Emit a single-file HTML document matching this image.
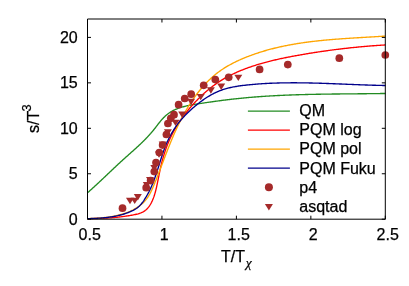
<!DOCTYPE html>
<html><head><meta charset="utf-8">
<style>
html,body{margin:0;padding:0;background:#fff;}
body{width:409px;height:286px;overflow:hidden;}
svg{display:block;will-change:transform;}
text{font-family:"Liberation Sans",sans-serif;fill:#000;stroke:#000;stroke-width:0.25px;}
</style></head><body>
<svg width="409" height="286" viewBox="0 0 409 286">
<rect width="409" height="286" fill="#fff"/>
<defs><clipPath id="c"><rect x="87" y="18.5" width="299" height="201.2"/></clipPath></defs>
<g fill="none" stroke-width="1.35" stroke-linejoin="round" clip-path="url(#c)">
<path stroke="#228b22" d="M87.48,192.78 L88.11,192.23 L88.74,191.68 L89.36,191.13 L89.99,190.58 L90.61,190.02 L91.23,189.47 L91.85,188.91 L92.47,188.35 L93.09,187.79 L93.71,187.23 L94.32,186.67 L94.94,186.10 L95.55,185.54 L96.17,184.97 L96.78,184.41 L97.39,183.84 L98.00,183.27 L98.61,182.70 L99.22,182.13 L99.83,181.56 L100.44,180.99 L101.05,180.42 L101.66,179.85 L102.27,179.27 L102.87,178.70 L103.48,178.13 L104.08,177.55 L104.69,176.98 L105.30,176.40 L105.90,175.83 L106.51,175.25 L107.11,174.68 L107.72,174.10 L108.32,173.52 L108.93,172.95 L109.53,172.37 L110.14,171.80 L110.74,171.22 L111.35,170.65 L111.95,170.07 L112.56,169.50 L113.17,168.93 L113.77,168.35 L114.38,167.78 L114.99,167.21 L115.60,166.64 L116.21,166.06 L116.81,165.49 L117.42,164.92 L118.04,164.35 L118.65,163.79 L119.26,163.22 L119.87,162.65 L120.48,162.09 L121.10,161.52 L121.71,160.96 L122.33,160.40 L122.95,159.84 L123.57,159.28 L124.19,158.72 L124.81,158.16 L125.43,157.60 L126.05,157.05 L126.67,156.49 L127.29,155.94 L127.92,155.38 L128.54,154.83 L129.16,154.28 L129.78,153.72 L130.41,153.17 L131.03,152.61 L131.65,152.06 L132.27,151.51 L132.90,150.95 L133.52,150.39 L134.14,149.84 L134.75,149.28 L135.37,148.72 L135.99,148.16 L136.60,147.60 L137.22,147.04 L137.83,146.47 L138.44,145.91 L139.05,145.34 L139.66,144.77 L140.26,144.20 L140.87,143.62 L141.47,143.05 L142.07,142.47 L142.66,141.89 L143.26,141.30 L143.85,140.72 L144.44,140.13 L145.03,139.53 L145.61,138.94 L146.19,138.34 L146.77,137.74 L147.34,137.13 L147.91,136.52 L148.48,135.91 L149.05,135.29 L149.61,134.67 L150.16,134.04 L150.72,133.42 L151.27,132.78 L151.81,132.14 L152.35,131.50 L152.89,130.85 L153.42,130.20 L153.95,129.54 L154.47,128.88 L154.99,128.22 L155.51,127.55 L156.02,126.88 L156.54,126.21 L157.05,125.54 L157.57,124.87 L158.08,124.20 L158.60,123.53 L159.12,122.87 L159.65,122.22 L160.18,121.56 L160.71,120.92 L161.25,120.28 L161.80,119.65 L162.36,119.03 L162.92,118.42 L163.49,117.82 L164.07,117.23 L164.66,116.65 L165.27,116.09 L165.88,115.54 L166.51,115.01 L167.14,114.49 L167.79,113.98 L168.45,113.49 L169.12,113.01 L169.80,112.55 L170.48,112.10 L171.18,111.67 L171.89,111.25 L172.61,110.85 L173.33,110.47 L174.07,110.10 L174.81,109.75 L175.56,109.41 L176.32,109.09 L177.09,108.78 L177.86,108.49 L178.64,108.21 L179.43,107.94 L180.21,107.68 L181.01,107.43 L181.80,107.19 L182.60,106.96 L183.40,106.74 L184.21,106.52 L185.01,106.32 L185.83,106.12 L186.64,105.93 L187.45,105.75 L188.27,105.57 L189.09,105.40 L189.92,105.23 L190.74,105.07 L191.56,104.92 L192.39,104.77 L193.22,104.62 L194.05,104.48 L194.88,104.34 L195.71,104.20 L196.54,104.07 L197.37,103.94 L198.21,103.81 L199.04,103.68 L199.87,103.55 L200.70,103.43 L201.53,103.30 L202.36,103.18 L203.19,103.05 L204.02,102.93 L204.85,102.81 L205.68,102.68 L206.51,102.56 L207.34,102.44 L208.17,102.32 L209.00,102.20 L209.83,102.08 L210.66,101.96 L211.48,101.85 L212.31,101.73 L213.14,101.61 L213.97,101.50 L214.79,101.39 L215.62,101.27 L216.45,101.16 L217.28,101.05 L218.10,100.94 L218.93,100.83 L219.76,100.72 L220.58,100.61 L221.41,100.50 L222.23,100.40 L223.06,100.29 L223.89,100.19 L224.71,100.08 L225.54,99.98 L226.37,99.88 L227.19,99.78 L228.02,99.68 L228.84,99.58 L229.67,99.48 L230.50,99.38 L231.32,99.29 L232.15,99.19 L232.98,99.10 L233.80,99.00 L234.63,98.91 L235.46,98.82 L236.28,98.73 L237.11,98.64 L237.94,98.56 L238.76,98.47 L239.59,98.38 L240.42,98.30 L241.25,98.22 L242.08,98.13 L242.90,98.05 L243.73,97.97 L244.56,97.90 L245.39,97.82 L246.22,97.74 L247.05,97.67 L247.88,97.59 L248.71,97.52 L249.53,97.44 L250.36,97.37 L251.19,97.30 L252.02,97.23 L252.85,97.17 L253.68,97.10 L254.51,97.03 L255.34,96.97 L256.18,96.90 L257.01,96.84 L257.84,96.78 L258.67,96.71 L259.50,96.65 L260.33,96.59 L261.16,96.54 L261.99,96.48 L262.82,96.42 L263.66,96.37 L264.49,96.31 L265.32,96.26 L266.15,96.20 L266.98,96.15 L267.82,96.10 L268.65,96.05 L269.48,96.00 L270.31,95.95 L271.15,95.90 L271.98,95.85 L272.81,95.81 L273.65,95.76 L274.48,95.72 L275.31,95.67 L276.15,95.63 L276.98,95.58 L277.81,95.54 L278.65,95.50 L279.48,95.46 L280.31,95.42 L281.15,95.38 L281.98,95.34 L282.82,95.31 L283.65,95.27 L284.48,95.23 L285.32,95.20 L286.15,95.16 L286.99,95.13 L287.82,95.09 L288.66,95.06 L289.49,95.03 L290.33,95.00 L291.16,94.97 L292.00,94.94 L292.83,94.91 L293.67,94.88 L294.50,94.85 L295.34,94.82 L296.17,94.79 L297.01,94.77 L297.84,94.74 L298.68,94.71 L299.51,94.69 L300.35,94.66 L301.18,94.64 L302.02,94.62 L302.85,94.59 L303.69,94.57 L304.53,94.55 L305.36,94.53 L306.20,94.51 L307.03,94.49 L307.87,94.47 L308.70,94.45 L309.54,94.43 L310.38,94.41 L311.21,94.39 L312.05,94.37 L312.88,94.35 L313.72,94.34 L314.56,94.32 L315.39,94.30 L316.23,94.29 L317.06,94.27 L317.90,94.26 L318.74,94.24 L319.57,94.23 L320.41,94.21 L321.24,94.20 L322.08,94.19 L322.92,94.17 L323.75,94.16 L324.59,94.15 L325.42,94.13 L326.26,94.12 L327.10,94.11 L327.93,94.10 L328.77,94.09 L329.60,94.08 L330.44,94.07 L331.28,94.05 L332.11,94.04 L332.95,94.03 L333.78,94.02 L334.62,94.01 L335.45,94.00 L336.29,94.00 L337.13,93.99 L337.96,93.98 L338.80,93.97 L339.63,93.96 L340.47,93.95 L341.30,93.94 L342.14,93.93 L342.97,93.93 L343.81,93.92 L344.65,93.91 L345.48,93.90 L346.32,93.89 L347.15,93.89 L347.99,93.88 L348.82,93.87 L349.66,93.86 L350.49,93.86 L351.33,93.85 L352.16,93.84 L353.00,93.83 L353.83,93.83 L354.66,93.82 L355.50,93.81 L356.33,93.80 L357.17,93.80 L358.00,93.79 L358.84,93.78 L359.67,93.77 L360.51,93.77 L361.34,93.76 L362.17,93.75 L363.01,93.74 L363.84,93.73 L364.67,93.73 L365.51,93.72 L366.34,93.71 L367.17,93.70 L368.01,93.69 L368.84,93.68 L369.67,93.68 L370.51,93.67 L371.34,93.66 L372.17,93.65 L373.01,93.64 L373.84,93.63 L374.67,93.62 L375.50,93.61 L376.34,93.60 L377.17,93.59 L378.00,93.58 L378.83,93.57 L379.66,93.56 L380.49,93.54 L381.33,93.53 L382.16,93.52 L382.99,93.51 L383.82,93.49 L384.65,93.48 L385.48,93.47"/>
<path stroke="#ff0000" d="M87.50,218.61 L88.50,218.61 L89.49,218.60 L90.48,218.59 L91.46,218.58 L92.44,218.56 L93.42,218.55 L94.39,218.53 L95.36,218.51 L96.33,218.49 L97.29,218.46 L98.26,218.43 L99.22,218.40 L100.17,218.37 L101.13,218.34 L102.08,218.30 L103.04,218.26 L103.99,218.21 L104.94,218.17 L105.88,218.12 L106.83,218.06 L107.77,218.01 L108.72,217.95 L109.66,217.88 L110.60,217.82 L111.55,217.75 L112.49,217.67 L113.43,217.59 L114.37,217.51 L115.31,217.42 L116.26,217.33 L117.20,217.24 L118.14,217.14 L119.09,217.03 L120.03,216.93 L120.98,216.81 L121.92,216.70 L122.87,216.57 L123.82,216.45 L124.77,216.31 L125.73,216.18 L126.68,216.03 L127.64,215.89 L128.60,215.73 L129.56,215.58 L130.53,215.41 L131.50,215.24 L132.47,215.07 L133.44,214.89 L134.41,214.70 L135.38,214.49 L136.34,214.27 L137.30,214.04 L138.24,213.78 L139.17,213.50 L140.08,213.19 L140.97,212.85 L141.84,212.47 L142.69,212.06 L143.51,211.62 L144.30,211.13 L145.06,210.59 L145.78,210.02 L146.47,209.40 L147.14,208.75 L147.77,208.06 L148.38,207.34 L148.95,206.58 L149.50,205.81 L150.03,205.00 L150.53,204.18 L151.01,203.34 L151.46,202.48 L151.89,201.60 L152.30,200.72 L152.69,199.82 L153.06,198.92 L153.42,198.02 L153.75,197.11 L154.08,196.19 L154.38,195.27 L154.67,194.34 L154.95,193.41 L155.22,192.48 L155.47,191.55 L155.71,190.61 L155.95,189.67 L156.17,188.73 L156.39,187.79 L156.60,186.84 L156.81,185.90 L157.01,184.96 L157.21,184.02 L157.41,183.08 L157.60,182.14 L157.79,181.20 L157.97,180.26 L158.16,179.32 L158.35,178.39 L158.53,177.45 L158.72,176.51 L158.90,175.57 L159.09,174.64 L159.28,173.70 L159.47,172.76 L159.66,171.83 L159.86,170.89 L160.06,169.95 L160.26,169.02 L160.47,168.08 L160.69,167.15 L160.90,166.21 L161.13,165.27 L161.35,164.34 L161.58,163.40 L161.82,162.47 L162.06,161.54 L162.31,160.61 L162.56,159.68 L162.82,158.75 L163.08,157.82 L163.34,156.89 L163.62,155.97 L163.90,155.04 L164.18,154.12 L164.47,153.20 L164.76,152.28 L165.07,151.37 L165.37,150.46 L165.69,149.54 L166.01,148.64 L166.33,147.73 L166.67,146.83 L167.00,145.92 L167.35,145.03 L167.70,144.13 L168.06,143.24 L168.43,142.35 L168.80,141.47 L169.18,140.58 L169.57,139.71 L169.96,138.83 L170.37,137.96 L170.77,137.09 L171.19,136.23 L171.61,135.37 L172.04,134.51 L172.48,133.66 L172.92,132.81 L173.37,131.96 L173.83,131.12 L174.29,130.28 L174.76,129.45 L175.24,128.62 L175.72,127.79 L176.21,126.96 L176.70,126.14 L177.21,125.33 L177.71,124.51 L178.23,123.70 L178.75,122.90 L179.27,122.10 L179.80,121.30 L180.34,120.50 L180.88,119.71 L181.43,118.92 L181.98,118.14 L182.54,117.36 L183.11,116.58 L183.68,115.81 L184.25,115.04 L184.83,114.28 L185.42,113.51 L186.01,112.76 L186.60,112.00 L187.20,111.25 L187.81,110.50 L188.42,109.76 L189.04,109.02 L189.66,108.28 L190.28,107.55 L190.91,106.82 L191.54,106.09 L192.18,105.37 L192.82,104.65 L193.47,103.94 L194.12,103.23 L194.78,102.52 L195.44,101.82 L196.10,101.12 L196.77,100.42 L197.44,99.73 L198.11,99.05 L198.79,98.36 L199.48,97.68 L200.17,97.01 L200.86,96.34 L201.56,95.68 L202.26,95.02 L202.97,94.36 L203.68,93.71 L204.39,93.07 L205.11,92.43 L205.84,91.79 L206.56,91.17 L207.30,90.54 L208.03,89.92 L208.77,89.31 L209.52,88.71 L210.27,88.11 L211.03,87.51 L211.79,86.93 L212.55,86.34 L213.32,85.77 L214.09,85.20 L214.87,84.64 L215.65,84.08 L216.44,83.54 L217.23,82.99 L218.03,82.46 L218.83,81.93 L219.63,81.41 L220.44,80.90 L221.26,80.39 L222.07,79.89 L222.90,79.40 L223.72,78.91 L224.56,78.43 L225.39,77.96 L226.23,77.49 L227.07,77.03 L227.92,76.58 L228.77,76.13 L229.62,75.69 L230.48,75.26 L231.34,74.83 L232.20,74.40 L233.06,73.99 L233.93,73.58 L234.80,73.17 L235.68,72.77 L236.56,72.38 L237.44,71.99 L238.32,71.60 L239.20,71.23 L240.09,70.85 L240.98,70.49 L241.87,70.12 L242.76,69.77 L243.66,69.41 L244.56,69.07 L245.46,68.72 L246.36,68.39 L247.26,68.06 L248.16,67.73 L249.07,67.40 L249.98,67.09 L250.88,66.77 L251.79,66.46 L252.71,66.16 L253.62,65.85 L254.53,65.56 L255.45,65.27 L256.36,64.98 L257.28,64.69 L258.20,64.41 L259.12,64.14 L260.04,63.86 L260.96,63.59 L261.88,63.33 L262.81,63.07 L263.73,62.81 L264.66,62.55 L265.59,62.30 L266.52,62.06 L267.45,61.81 L268.38,61.57 L269.31,61.33 L270.24,61.10 L271.17,60.87 L272.11,60.64 L273.04,60.41 L273.98,60.19 L274.91,59.97 L275.85,59.75 L276.79,59.54 L277.72,59.33 L278.66,59.12 L279.60,58.91 L280.54,58.71 L281.48,58.51 L282.42,58.31 L283.37,58.11 L284.31,57.92 L285.25,57.72 L286.20,57.53 L287.14,57.35 L288.08,57.16 L289.03,56.97 L289.97,56.79 L290.92,56.61 L291.86,56.43 L292.81,56.25 L293.75,56.08 L294.70,55.90 L295.65,55.73 L296.59,55.56 L297.54,55.39 L298.49,55.22 L299.44,55.05 L300.38,54.88 L301.33,54.72 L302.28,54.55 L303.23,54.39 L304.17,54.23 L305.12,54.07 L306.07,53.91 L307.02,53.75 L307.97,53.59 L308.91,53.44 L309.86,53.28 L310.81,53.13 L311.76,52.98 L312.71,52.83 L313.66,52.68 L314.61,52.53 L315.56,52.38 L316.51,52.24 L317.46,52.09 L318.41,51.95 L319.36,51.81 L320.31,51.66 L321.26,51.52 L322.21,51.39 L323.16,51.25 L324.11,51.11 L325.06,50.98 L326.01,50.84 L326.96,50.71 L327.91,50.58 L328.86,50.45 L329.82,50.32 L330.77,50.19 L331.72,50.07 L332.67,49.94 L333.62,49.82 L334.58,49.70 L335.53,49.57 L336.48,49.45 L337.44,49.33 L338.39,49.22 L339.34,49.10 L340.30,48.98 L341.25,48.87 L342.20,48.76 L343.16,48.64 L344.11,48.53 L345.07,48.42 L346.02,48.32 L346.97,48.21 L347.93,48.10 L348.88,48.00 L349.84,47.90 L350.79,47.79 L351.75,47.69 L352.71,47.59 L353.66,47.50 L354.62,47.40 L355.57,47.30 L356.53,47.21 L357.49,47.11 L358.44,47.02 L359.40,46.93 L360.36,46.84 L361.31,46.75 L362.27,46.66 L363.23,46.58 L364.19,46.49 L365.14,46.41 L366.10,46.33 L367.06,46.25 L368.02,46.17 L368.98,46.09 L369.94,46.01 L370.90,45.93 L371.86,45.86 L372.82,45.78 L373.77,45.71 L374.73,45.64 L375.69,45.57 L376.66,45.50 L377.62,45.43 L378.58,45.36 L379.54,45.30 L380.50,45.23 L381.46,45.17 L382.42,45.11 L383.38,45.05 L384.34,44.99 L385.31,44.93"/>
<path stroke="#ffa500" d="M87.55,218.64 L88.48,218.61 L89.42,218.57 L90.36,218.54 L91.30,218.50 L92.25,218.46 L93.20,218.41 L94.15,218.36 L95.11,218.31 L96.07,218.26 L97.03,218.20 L97.99,218.13 L98.95,218.07 L99.92,217.99 L100.88,217.91 L101.85,217.83 L102.81,217.74 L103.78,217.64 L104.75,217.54 L105.71,217.43 L106.68,217.31 L107.64,217.19 L108.61,217.06 L109.57,216.92 L110.54,216.77 L111.50,216.62 L112.46,216.45 L113.42,216.28 L114.37,216.09 L115.33,215.90 L116.28,215.70 L117.23,215.48 L118.17,215.26 L119.11,215.02 L120.05,214.78 L120.99,214.52 L121.92,214.25 L122.85,213.97 L123.77,213.68 L124.69,213.37 L125.60,213.05 L126.51,212.72 L127.42,212.38 L128.32,212.02 L129.21,211.64 L130.10,211.26 L130.98,210.86 L131.85,210.44 L132.72,210.01 L133.58,209.56 L134.43,209.10 L135.28,208.62 L136.11,208.12 L136.93,207.61 L137.75,207.09 L138.54,206.54 L139.33,205.98 L140.10,205.41 L140.85,204.81 L141.59,204.20 L142.31,203.57 L143.02,202.93 L143.70,202.26 L144.36,201.58 L145.01,200.88 L145.63,200.17 L146.23,199.43 L146.80,198.68 L147.36,197.91 L147.89,197.12 L148.41,196.32 L148.90,195.50 L149.38,194.68 L149.85,193.84 L150.30,192.99 L150.74,192.13 L151.17,191.26 L151.58,190.39 L151.99,189.51 L152.39,188.62 L152.78,187.73 L153.17,186.84 L153.55,185.94 L153.93,185.05 L154.30,184.15 L154.67,183.25 L155.04,182.36 L155.41,181.46 L155.78,180.56 L156.14,179.66 L156.50,178.76 L156.86,177.87 L157.21,176.97 L157.57,176.07 L157.92,175.17 L158.27,174.27 L158.62,173.37 L158.97,172.47 L159.32,171.57 L159.67,170.67 L160.01,169.77 L160.36,168.87 L160.70,167.97 L161.04,167.07 L161.38,166.17 L161.73,165.27 L162.07,164.37 L162.41,163.47 L162.75,162.57 L163.09,161.67 L163.43,160.77 L163.77,159.87 L164.11,158.97 L164.45,158.07 L164.79,157.17 L165.13,156.28 L165.48,155.38 L165.82,154.48 L166.16,153.58 L166.51,152.68 L166.86,151.79 L167.20,150.89 L167.55,150.00 L167.90,149.10 L168.25,148.20 L168.61,147.31 L168.96,146.42 L169.32,145.52 L169.68,144.63 L170.04,143.74 L170.40,142.84 L170.76,141.95 L171.13,141.06 L171.50,140.17 L171.87,139.28 L172.25,138.40 L172.63,137.51 L173.01,136.62 L173.39,135.73 L173.78,134.85 L174.16,133.96 L174.56,133.08 L174.95,132.20 L175.35,131.32 L175.75,130.44 L176.15,129.56 L176.56,128.68 L176.97,127.81 L177.38,126.93 L177.80,126.06 L178.22,125.19 L178.64,124.32 L179.07,123.45 L179.50,122.59 L179.93,121.72 L180.37,120.86 L180.81,120.00 L181.25,119.14 L181.70,118.28 L182.15,117.43 L182.61,116.57 L183.06,115.72 L183.53,114.87 L183.99,114.03 L184.47,113.18 L184.94,112.34 L185.42,111.50 L185.90,110.66 L186.39,109.83 L186.88,109.00 L187.38,108.17 L187.88,107.34 L188.38,106.52 L188.89,105.70 L189.40,104.88 L189.92,104.06 L190.44,103.25 L190.97,102.44 L191.50,101.63 L192.03,100.83 L192.57,100.03 L193.12,99.23 L193.67,98.44 L194.23,97.65 L194.79,96.86 L195.35,96.08 L195.92,95.30 L196.49,94.52 L197.07,93.75 L197.66,92.99 L198.25,92.22 L198.85,91.47 L199.45,90.71 L200.05,89.96 L200.66,89.22 L201.28,88.48 L201.90,87.75 L202.53,87.02 L203.16,86.30 L203.80,85.58 L204.45,84.87 L205.10,84.16 L205.75,83.46 L206.42,82.77 L207.08,82.08 L207.76,81.39 L208.44,80.72 L209.12,80.05 L209.82,79.39 L210.51,78.73 L211.22,78.08 L211.93,77.44 L212.64,76.80 L213.37,76.17 L214.10,75.55 L214.83,74.94 L215.57,74.33 L216.32,73.74 L217.08,73.14 L217.84,72.56 L218.60,71.99 L219.38,71.42 L220.16,70.86 L220.95,70.31 L221.74,69.77 L222.54,69.23 L223.35,68.71 L224.16,68.19 L224.97,67.67 L225.80,67.17 L226.62,66.67 L227.46,66.18 L228.29,65.70 L229.13,65.22 L229.98,64.75 L230.83,64.29 L231.69,63.83 L232.55,63.38 L233.41,62.94 L234.28,62.50 L235.15,62.07 L236.02,61.64 L236.90,61.22 L237.78,60.81 L238.66,60.40 L239.55,60.00 L240.43,59.61 L241.32,59.22 L242.22,58.83 L243.11,58.45 L244.01,58.08 L244.91,57.71 L245.81,57.34 L246.71,56.98 L247.62,56.63 L248.52,56.28 L249.43,55.94 L250.33,55.59 L251.24,55.26 L252.15,54.93 L253.06,54.60 L253.97,54.28 L254.89,53.96 L255.80,53.65 L256.71,53.34 L257.63,53.04 L258.55,52.74 L259.46,52.44 L260.38,52.15 L261.30,51.86 L262.22,51.58 L263.15,51.30 L264.07,51.02 L264.99,50.75 L265.92,50.48 L266.84,50.22 L267.77,49.96 L268.70,49.71 L269.62,49.46 L270.55,49.21 L271.48,48.97 L272.41,48.73 L273.35,48.49 L274.28,48.26 L275.21,48.03 L276.15,47.80 L277.08,47.58 L278.02,47.36 L278.96,47.15 L279.89,46.94 L280.83,46.73 L281.77,46.52 L282.71,46.32 L283.65,46.12 L284.59,45.93 L285.53,45.74 L286.48,45.55 L287.42,45.36 L288.36,45.18 L289.31,45.00 L290.25,44.83 L291.20,44.65 L292.15,44.48 L293.10,44.32 L294.04,44.15 L294.99,43.99 L295.94,43.83 L296.89,43.68 L297.84,43.52 L298.79,43.37 L299.74,43.22 L300.70,43.08 L301.65,42.94 L302.60,42.80 L303.55,42.66 L304.51,42.52 L305.46,42.39 L306.42,42.26 L307.37,42.13 L308.33,42.01 L309.29,41.88 L310.24,41.76 L311.20,41.64 L312.16,41.53 L313.12,41.41 L314.07,41.30 L315.03,41.19 L315.99,41.08 L316.95,40.97 L317.91,40.87 L318.87,40.77 L319.83,40.66 L320.79,40.57 L321.75,40.47 L322.72,40.37 L323.68,40.28 L324.64,40.19 L325.60,40.10 L326.56,40.01 L327.53,39.92 L328.49,39.83 L329.45,39.75 L330.42,39.67 L331.38,39.58 L332.34,39.50 L333.31,39.42 L334.27,39.35 L335.24,39.27 L336.20,39.20 L337.16,39.12 L338.13,39.05 L339.09,38.98 L340.06,38.91 L341.02,38.84 L341.99,38.77 L342.95,38.70 L343.92,38.63 L344.88,38.57 L345.85,38.50 L346.81,38.44 L347.78,38.37 L348.74,38.31 L349.71,38.25 L350.67,38.19 L351.64,38.13 L352.60,38.06 L353.57,38.01 L354.53,37.95 L355.50,37.89 L356.46,37.83 L357.43,37.77 L358.39,37.71 L359.35,37.65 L360.32,37.60 L361.28,37.54 L362.25,37.48 L363.21,37.43 L364.17,37.37 L365.13,37.31 L366.10,37.26 L367.06,37.20 L368.02,37.14 L368.99,37.09 L369.95,37.03 L370.91,36.97 L371.87,36.92 L372.83,36.86 L373.79,36.80 L374.75,36.75 L375.71,36.69 L376.67,36.63 L377.63,36.57 L378.59,36.51 L379.55,36.45 L380.51,36.39 L381.47,36.33 L382.42,36.27 L383.38,36.21 L384.34,36.14 L385.29,36.08"/>
<path stroke="#00008b" d="M87.53,218.64 L88.42,218.61 L89.32,218.59 L90.22,218.56 L91.12,218.53 L92.02,218.50 L92.93,218.47 L93.84,218.43 L94.75,218.39 L95.67,218.34 L96.58,218.30 L97.50,218.25 L98.42,218.19 L99.34,218.13 L100.26,218.07 L101.18,218.00 L102.10,217.93 L103.03,217.85 L103.95,217.76 L104.87,217.67 L105.79,217.58 L106.72,217.47 L107.64,217.37 L108.56,217.25 L109.48,217.13 L110.40,217.00 L111.32,216.86 L112.23,216.71 L113.15,216.56 L114.06,216.40 L114.97,216.23 L115.88,216.05 L116.78,215.86 L117.69,215.67 L118.58,215.46 L119.48,215.25 L120.37,215.02 L121.26,214.79 L122.15,214.54 L123.03,214.28 L123.91,214.01 L124.78,213.74 L125.65,213.45 L126.51,213.14 L127.37,212.83 L128.23,212.50 L129.08,212.17 L129.92,211.82 L130.76,211.45 L131.59,211.07 L132.41,210.68 L133.23,210.28 L134.04,209.86 L134.83,209.41 L135.61,208.95 L136.37,208.46 L137.11,207.94 L137.83,207.39 L138.52,206.81 L139.18,206.20 L139.82,205.56 L140.44,204.90 L141.05,204.21 L141.63,203.50 L142.20,202.78 L142.75,202.04 L143.28,201.29 L143.81,200.53 L144.32,199.76 L144.83,198.98 L145.32,198.20 L145.81,197.42 L146.29,196.63 L146.75,195.83 L147.21,195.03 L147.66,194.22 L148.10,193.41 L148.53,192.60 L148.96,191.78 L149.37,190.95 L149.78,190.13 L150.18,189.30 L150.57,188.46 L150.95,187.63 L151.33,186.79 L151.70,185.94 L152.06,185.10 L152.41,184.25 L152.76,183.40 L153.10,182.55 L153.44,181.69 L153.77,180.83 L154.09,179.98 L154.41,179.12 L154.72,178.25 L155.03,177.39 L155.33,176.52 L155.63,175.66 L155.93,174.79 L156.22,173.92 L156.51,173.05 L156.79,172.18 L157.08,171.31 L157.36,170.43 L157.63,169.56 L157.91,168.69 L158.19,167.81 L158.46,166.94 L158.73,166.06 L159.01,165.19 L159.28,164.31 L159.55,163.44 L159.83,162.56 L160.10,161.69 L160.37,160.81 L160.65,159.94 L160.93,159.06 L161.21,158.19 L161.49,157.32 L161.77,156.45 L162.06,155.58 L162.35,154.71 L162.64,153.84 L162.94,152.98 L163.24,152.11 L163.54,151.25 L163.85,150.39 L164.17,149.53 L164.49,148.67 L164.81,147.81 L165.14,146.96 L165.48,146.11 L165.82,145.26 L166.17,144.41 L166.53,143.56 L166.89,142.72 L167.26,141.88 L167.64,141.04 L168.03,140.21 L168.43,139.38 L168.83,138.55 L169.24,137.73 L169.66,136.91 L170.09,136.09 L170.53,135.28 L170.98,134.47 L171.43,133.66 L171.89,132.86 L172.36,132.06 L172.84,131.27 L173.32,130.49 L173.81,129.70 L174.31,128.93 L174.82,128.16 L175.33,127.39 L175.85,126.63 L176.38,125.88 L176.92,125.13 L177.46,124.38 L178.01,123.65 L178.57,122.92 L179.13,122.20 L179.70,121.48 L180.28,120.77 L180.86,120.07 L181.45,119.38 L182.05,118.69 L182.65,118.01 L183.26,117.34 L183.88,116.67 L184.50,116.01 L185.13,115.35 L185.76,114.70 L186.40,114.06 L187.04,113.42 L187.69,112.78 L188.35,112.15 L189.01,111.53 L189.68,110.91 L190.35,110.29 L191.02,109.68 L191.71,109.07 L192.39,108.46 L193.08,107.85 L193.78,107.25 L194.48,106.66 L195.18,106.06 L195.89,105.47 L196.61,104.89 L197.32,104.30 L198.05,103.73 L198.78,103.16 L199.51,102.59 L200.24,102.03 L200.99,101.47 L201.73,100.92 L202.48,100.38 L203.24,99.84 L204.00,99.31 L204.76,98.79 L205.53,98.28 L206.30,97.77 L207.08,97.27 L207.86,96.78 L208.65,96.30 L209.44,95.83 L210.24,95.36 L211.04,94.91 L211.84,94.47 L212.65,94.03 L213.47,93.61 L214.28,93.19 L215.11,92.79 L215.93,92.40 L216.77,92.02 L217.60,91.65 L218.44,91.30 L219.29,90.95 L220.13,90.62 L220.99,90.30 L221.85,89.99 L222.71,89.70 L223.57,89.42 L224.44,89.14 L225.31,88.88 L226.19,88.63 L227.07,88.39 L227.95,88.16 L228.84,87.94 L229.73,87.72 L230.62,87.52 L231.51,87.33 L232.41,87.14 L233.31,86.96 L234.21,86.79 L235.11,86.63 L236.02,86.47 L236.92,86.32 L237.83,86.17 L238.74,86.04 L239.65,85.90 L240.56,85.78 L241.48,85.65 L242.39,85.54 L243.31,85.42 L244.22,85.31 L245.14,85.21 L246.06,85.11 L246.97,85.01 L247.89,84.91 L248.81,84.82 L249.72,84.73 L250.64,84.64 L251.56,84.55 L252.47,84.47 L253.39,84.38 L254.31,84.30 L255.22,84.23 L256.14,84.15 L257.06,84.08 L257.98,84.01 L258.89,83.94 L259.81,83.88 L260.73,83.81 L261.64,83.75 L262.56,83.69 L263.48,83.64 L264.39,83.58 L265.31,83.53 L266.23,83.48 L267.15,83.43 L268.06,83.38 L268.98,83.34 L269.90,83.29 L270.81,83.25 L271.73,83.21 L272.65,83.18 L273.56,83.14 L274.48,83.11 L275.40,83.08 L276.31,83.05 L277.23,83.02 L278.15,82.99 L279.07,82.97 L279.98,82.94 L280.90,82.92 L281.82,82.90 L282.73,82.88 L283.65,82.87 L284.57,82.85 L285.48,82.84 L286.40,82.83 L287.32,82.82 L288.24,82.81 L289.15,82.80 L290.07,82.80 L290.99,82.79 L291.90,82.79 L292.82,82.79 L293.74,82.79 L294.66,82.79 L295.57,82.79 L296.49,82.79 L297.41,82.80 L298.32,82.80 L299.24,82.81 L300.16,82.82 L301.07,82.83 L301.99,82.84 L302.91,82.85 L303.83,82.86 L304.74,82.88 L305.66,82.89 L306.58,82.91 L307.49,82.93 L308.41,82.94 L309.33,82.96 L310.25,82.98 L311.16,83.00 L312.08,83.02 L313.00,83.05 L313.92,83.07 L314.83,83.09 L315.75,83.12 L316.67,83.15 L317.58,83.17 L318.50,83.20 L319.42,83.23 L320.34,83.26 L321.25,83.28 L322.17,83.31 L323.09,83.34 L324.01,83.37 L324.92,83.41 L325.84,83.44 L326.76,83.47 L327.67,83.50 L328.59,83.54 L329.51,83.57 L330.43,83.61 L331.34,83.64 L332.26,83.67 L333.18,83.71 L334.10,83.75 L335.01,83.78 L335.93,83.82 L336.85,83.85 L337.77,83.89 L338.68,83.93 L339.60,83.96 L340.52,84.00 L341.44,84.04 L342.36,84.08 L343.27,84.11 L344.19,84.15 L345.11,84.19 L346.03,84.23 L346.94,84.26 L347.86,84.30 L348.78,84.34 L349.70,84.38 L350.61,84.41 L351.53,84.45 L352.45,84.49 L353.37,84.52 L354.29,84.56 L355.20,84.60 L356.12,84.63 L357.04,84.67 L357.96,84.70 L358.88,84.74 L359.79,84.77 L360.71,84.81 L361.63,84.84 L362.55,84.88 L363.47,84.91 L364.38,84.94 L365.30,84.97 L366.22,85.01 L367.14,85.04 L368.06,85.07 L368.97,85.10 L369.89,85.13 L370.81,85.16 L371.73,85.18 L372.65,85.21 L373.57,85.24 L374.48,85.26 L375.40,85.29 L376.32,85.31 L377.24,85.34 L378.16,85.36 L379.08,85.38 L379.99,85.40 L380.91,85.43 L381.83,85.44 L382.75,85.46 L383.67,85.48 L384.59,85.50 L385.51,85.51"/>
</g>
<g fill="#a52a2a">
<circle cx="122.5" cy="208.2" r="3.85"/>
<circle cx="146.2" cy="187.7" r="3.85"/>
<circle cx="150.6" cy="180.6" r="3.85"/>
<circle cx="154.3" cy="171.6" r="3.85"/>
<circle cx="156.0" cy="162.6" r="3.85"/>
<circle cx="159.3" cy="152.5" r="3.85"/>
<circle cx="162.6" cy="145.1" r="3.85"/>
<circle cx="166.4" cy="134.5" r="3.85"/>
<circle cx="167.9" cy="123.5" r="3.85"/>
<circle cx="170.8" cy="118.3" r="3.85"/>
<circle cx="174.0" cy="114.7" r="3.85"/>
<circle cx="178.6" cy="104.7" r="3.85"/>
<circle cx="184.7" cy="98.5" r="3.85"/>
<circle cx="191.2" cy="94.2" r="3.85"/>
<circle cx="203.7" cy="85.3" r="3.85"/>
<circle cx="215.3" cy="79.6" r="3.85"/>
<circle cx="228.7" cy="77.3" r="3.85"/>
<circle cx="259.6" cy="69.4" r="3.85"/>
<circle cx="287.8" cy="64.6" r="3.85"/>
<circle cx="339.3" cy="58.2" r="3.85"/>
<circle cx="385.3" cy="55.0" r="3.85"/>
<path d="M130.0,204.2 l-4,-6.4 h8z"/>
<path d="M134.7,204.1 l-4,-6.4 h8z"/>
<path d="M137.8,200.4 l-4,-6.4 h8z"/>
<path d="M146.8,188.3 l-4,-6.4 h8z"/>
<path d="M150.0,183.5 l-4,-6.4 h8z"/>
<path d="M154.3,171.3 l-4,-6.4 h8z"/>
<path d="M159.0,157.8 l-4,-6.4 h8z"/>
<path d="M162.7,147.9 l-4,-6.4 h8z"/>
<path d="M182.2,117.9 l-4,-6.4 h8z"/>
<path d="M175.5,126.1 l-4,-6.4 h8z"/>
<path d="M191.1,105.2 l-4,-6.4 h8z"/>
<path d="M200.7,100.3 l-4,-6.4 h8z"/>
<path d="M210.9,93.7 l-4,-6.4 h8z"/>
<path d="M221.2,89.9 l-4,-6.4 h8z"/>
<path d="M238.3,81.1 l-4,-6.4 h8z"/>
<path d="M167.9,135.7 l-4,-6.4 h8z"/>
</g>

<g stroke="#000" stroke-width="1" fill="none" stroke-linejoin="round">
<rect x="87.5" y="19" width="297.8" height="200.2"/>
<path d="M87.5,219.2h3.5M87.5,173.75h3.5M87.5,128.3h3.5M87.5,82.85h3.5M87.5,37.4h3.5"/>
<path d="M385.3,219.2h-3.5M385.3,173.75h-3.5M385.3,128.3h-3.5M385.3,82.85h-3.5M385.3,37.4h-3.5"/>
<path d="M87.5,219.2v-3.5M161.95,219.2v-3.5M236.4,219.2v-3.5M310.85,219.2v-3.5M385.3,219.2v-3.5"/>
<path d="M87.5,19v3.5M161.95,19v3.5M236.4,19v3.5M310.85,19v3.5M385.3,19v3.5"/>
</g>
<g font-size="16" text-anchor="end">
<text x="77.7" y="224.7">0</text>
<text x="77.7" y="179.2">5</text>
<text x="77.7" y="133.8">10</text>
<text x="77.7" y="88.3">15</text>
<text x="77.7" y="42.9">20</text>
</g>
<g font-size="16" text-anchor="middle">
<text x="89.7" y="240.1">0.5</text>
<text x="164.2" y="240.1">1</text>
<text x="238.7" y="240.1">1.5</text>
<text x="313.2" y="240.1">2</text>
<text x="387.7" y="240.1">2.5</text>
</g>
<g font-size="16">
<text x="221" y="262">T/T<tspan font-family="Liberation Serif" font-style="italic" font-size="13.5" dy="4.6" dx="0.8">χ</tspan></text>
<text transform="translate(39,133) rotate(-90)">s/T<tspan font-size="12.8" dy="-8" dx="-0.7">3</tspan></text>
</g>
<g stroke-width="1.25" fill="none">
<path stroke="#228b22" d="M247.9,111H289.9"/>
<path stroke="#ff0000" d="M247.9,130H289.9"/>
<path stroke="#ffa500" d="M247.9,149H289.9"/>
<path stroke="#00008b" d="M247.9,168.05H289.9"/>
</g>
<g fill="#a52a2a"><circle cx="268.9" cy="187.2" r="4"/><path d="M268.9,210.4 l-4,-6.4 h8z"/></g>
<g font-size="16">
<text x="299.3" y="116.2">QM</text>
<text x="299.3" y="135.3">PQM log</text>
<text x="299.3" y="154.4">PQM pol</text>
<text x="299.3" y="173.5">PQM Fuku</text>
<text x="299.3" y="192.6">p4</text>
<text x="299.3" y="211.7">asqtad</text>
</g>
</svg>
</body></html>
